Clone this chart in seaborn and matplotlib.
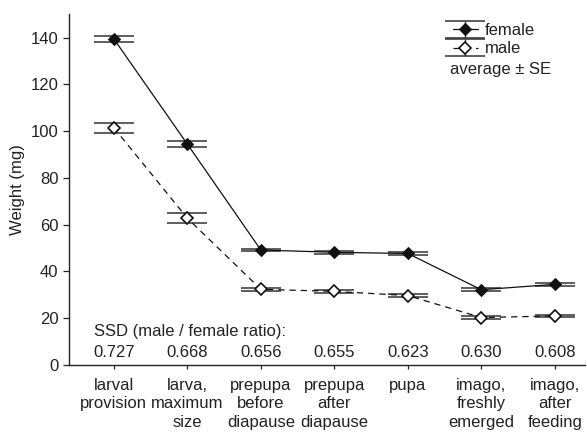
import matplotlib
matplotlib.use("Agg")
import matplotlib.pyplot as plt
import seaborn as sns
import numpy as np

stages = ["larval\nprovision", "larva,\nmaximum\nsize", "prepupa\nbefore\ndiapause",
          "prepupa\nafter\ndiapause", "pupa", "imago,\nfreshly\nemerged", "imago,\nafter\nfeeding"]
female = [139.5, 94.5, 49.2, 48.2, 47.7, 32.2, 34.5]
female_se = [1.2, 1.3, 0.6, 0.6, 0.6, 0.6, 0.6]
male = [101.5, 62.8, 32.4, 31.5, 29.7, 20.3, 21.0]
male_se = [2.1, 2.1, 0.7, 0.6, 0.6, 0.5, 0.6]
ssd = ["0.727", "0.668", "0.656", "0.655", "0.623", "0.630", "0.608"]

sns.set_theme(style="ticks")
plt.rcParams['font.family'] = ['Liberation Sans', 'DejaVu Sans']

FS = 12
TC = '#222222'
fig = plt.figure(figsize=(5.87, 4.33), dpi=100)
ax = fig.add_axes([0.1175, 0.157, 0.879, 0.81])

pos = np.arange(len(stages))
cap = 14.5
eb_f = ax.errorbar(pos, female, yerr=female_se, fmt='none', ecolor='#333333',
                   elinewidth=1.0, capsize=cap, capthick=1.1, zorder=2)
eb_m = ax.errorbar(pos, male, yerr=male_se, fmt='none', ecolor='#333333',
                   elinewidth=1.0, capsize=cap, capthick=1.1, zorder=2)

sns.lineplot(x=pos, y=female, ax=ax, color='#111111', linewidth=0.9, marker='D',
             markersize=6.5, markerfacecolor='#111111', markeredgecolor='#111111',
             zorder=3)
sns.lineplot(x=pos, y=male, ax=ax, color='#111111', linewidth=0.9, marker='D',
             markersize=6.5, markerfacecolor='white', markeredgecolor='#111111',
             markeredgewidth=1.2, zorder=3)
dl = [l for l in ax.get_lines() if l.get_marker() == 'D']
lf, lm = dl[0], dl[1]
lm.set_linestyle((0, (5, 4)))

leg = ax.legend([(eb_f, lf), (eb_m, lm)], ["female", "male"], loc='upper left',
                bbox_to_anchor=(0.745, 0.975), frameon=False, fontsize=FS,
                handlelength=1.45, handletextpad=0.45, borderpad=0.0, borderaxespad=0.0,
                labelspacing=0.2)
for t in leg.get_texts():
    t.set_color(TC)
ax.text(0.738, 0.843, "average ± SE", transform=ax.transAxes, ha='left', va='center',
        fontsize=FS, color=TC)

ax.text(-0.27, 14.5, "SSD (male / female ratio):", ha='left', va='center', fontsize=FS,
        color=TC)
for i, s in enumerate(ssd):
    ax.text(pos[i], 5.5, s, ha='center', va='center', fontsize=FS, color=TC)

ax.set_xlim(-0.61, 6.41)
ax.set_ylim(0, 150)
ax.set_yticks(np.arange(0, 141, 20))
ax.set_xticks(pos)
ax.set_xticklabels(stages, fontsize=FS, color=TC, linespacing=1.3)
ax.tick_params(axis='y', labelsize=FS, colors=TC, length=4, width=0.9)
ax.tick_params(axis='x', length=3, width=0.9, pad=6)
ax.set_ylabel("Weight (mg)", fontsize=FS, color=TC)
for sp in ['top', 'right']:
    ax.spines[sp].set_visible(False)
for sp in ['left', 'bottom']:
    ax.spines[sp].set_color(TC)
    ax.spines[sp].set_linewidth(1.0)

fig.savefig("out.png", dpi=100)
